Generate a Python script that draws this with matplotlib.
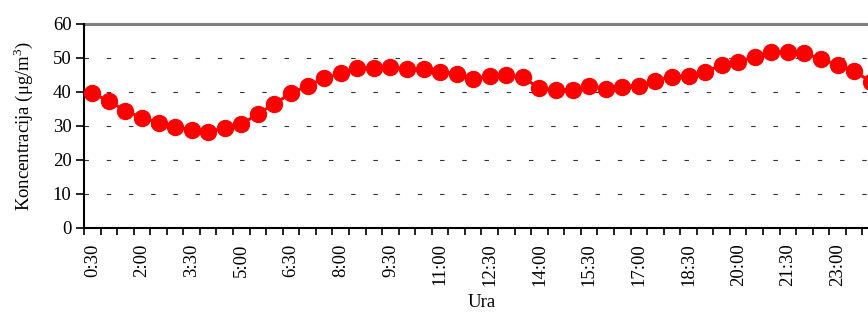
import numpy as np
import matplotlib
matplotlib.use('Agg')
import matplotlib.pyplot as plt
from matplotlib.ticker import FixedLocator

# Half-hour concentration values, 0:30 ... 24:00
times = ['%d:%02d' % divmod(30 * (i + 1), 60) for i in range(48)]
values = [39.5, 37.3, 34.3, 32.4, 30.9, 29.7, 28.8, 28.3, 29.3, 30.5,
          33.4, 36.5, 39.5, 41.8, 43.9, 45.4, 46.9, 46.9, 47.3, 46.7,
          46.7, 45.9, 45.2, 43.7, 44.7, 44.9, 44.2, 41.0, 40.5, 40.5,
          41.8, 40.8, 41.5, 41.8, 43.2, 44.4, 44.7, 45.9, 47.8, 48.8,
          50.3, 51.7, 51.7, 51.2, 49.6, 47.8, 46.2, 42.8]
yticks = [0, 10, 20, 30, 40, 50, 60]

plt.rcParams['font.family'] = ['Liberation Serif', 'DejaVu Serif']
plt.rcParams['mathtext.fontset'] = 'custom'
plt.rcParams['mathtext.rm'] = 'Liberation Serif'

fs = 13.5

fig = plt.figure(figsize=(8.68, 3.13), dpi=100)
# plot area runs past the right edge, as in the cropped original
ax = fig.add_axes([84 / 868, 85 / 313, 795 / 868, 204.5 / 313])

x = np.arange(len(values))
ax.plot(x, values, color='#ff0000', lw=2.2, marker='o', ms=11.5,
        markeredgecolor='#ff0000', clip_on=False, zorder=3)

ax.set_xlim(-0.5, len(values) - 0.5)
ax.set_ylim(0, 60)

# category labels every 1.5 h, tick marks between categories
ax.set_xticks(x[::3])
ax.set_xticklabels(times[::3], rotation=90, fontsize=fs)
ax.tick_params(axis='x', which='major', length=0, pad=11)
ax.xaxis.set_minor_locator(FixedLocator(np.arange(-0.5, len(values), 1)))
ax.tick_params(axis='x', which='minor', length=5, width=1.2, color='black')

ax.set_yticks(yticks)
ax.tick_params(axis='y', length=6, width=1.2, labelsize=fs, pad=3)

for v in yticks[1:-1]:
    ax.axhline(v, color='#333333', lw=0.8, ls=(0, (4, 16)), zorder=1)
ax.axhline(60, color='#808080', lw=2.2, zorder=1, clip_on=False)

for s in ['top', 'right']:
    ax.spines[s].set_visible(False)
ax.spines['left'].set_linewidth(1.5)
ax.spines['bottom'].set_linewidth(1.5)

ax.set_ylabel(r'Koncentracija ($\mathrm{\mu}$g/m$^3$)', fontsize=fs, labelpad=13)
ax.set_xlabel('Ura', fontsize=fs, labelpad=6)

fig.savefig('out.png', dpi=100)
